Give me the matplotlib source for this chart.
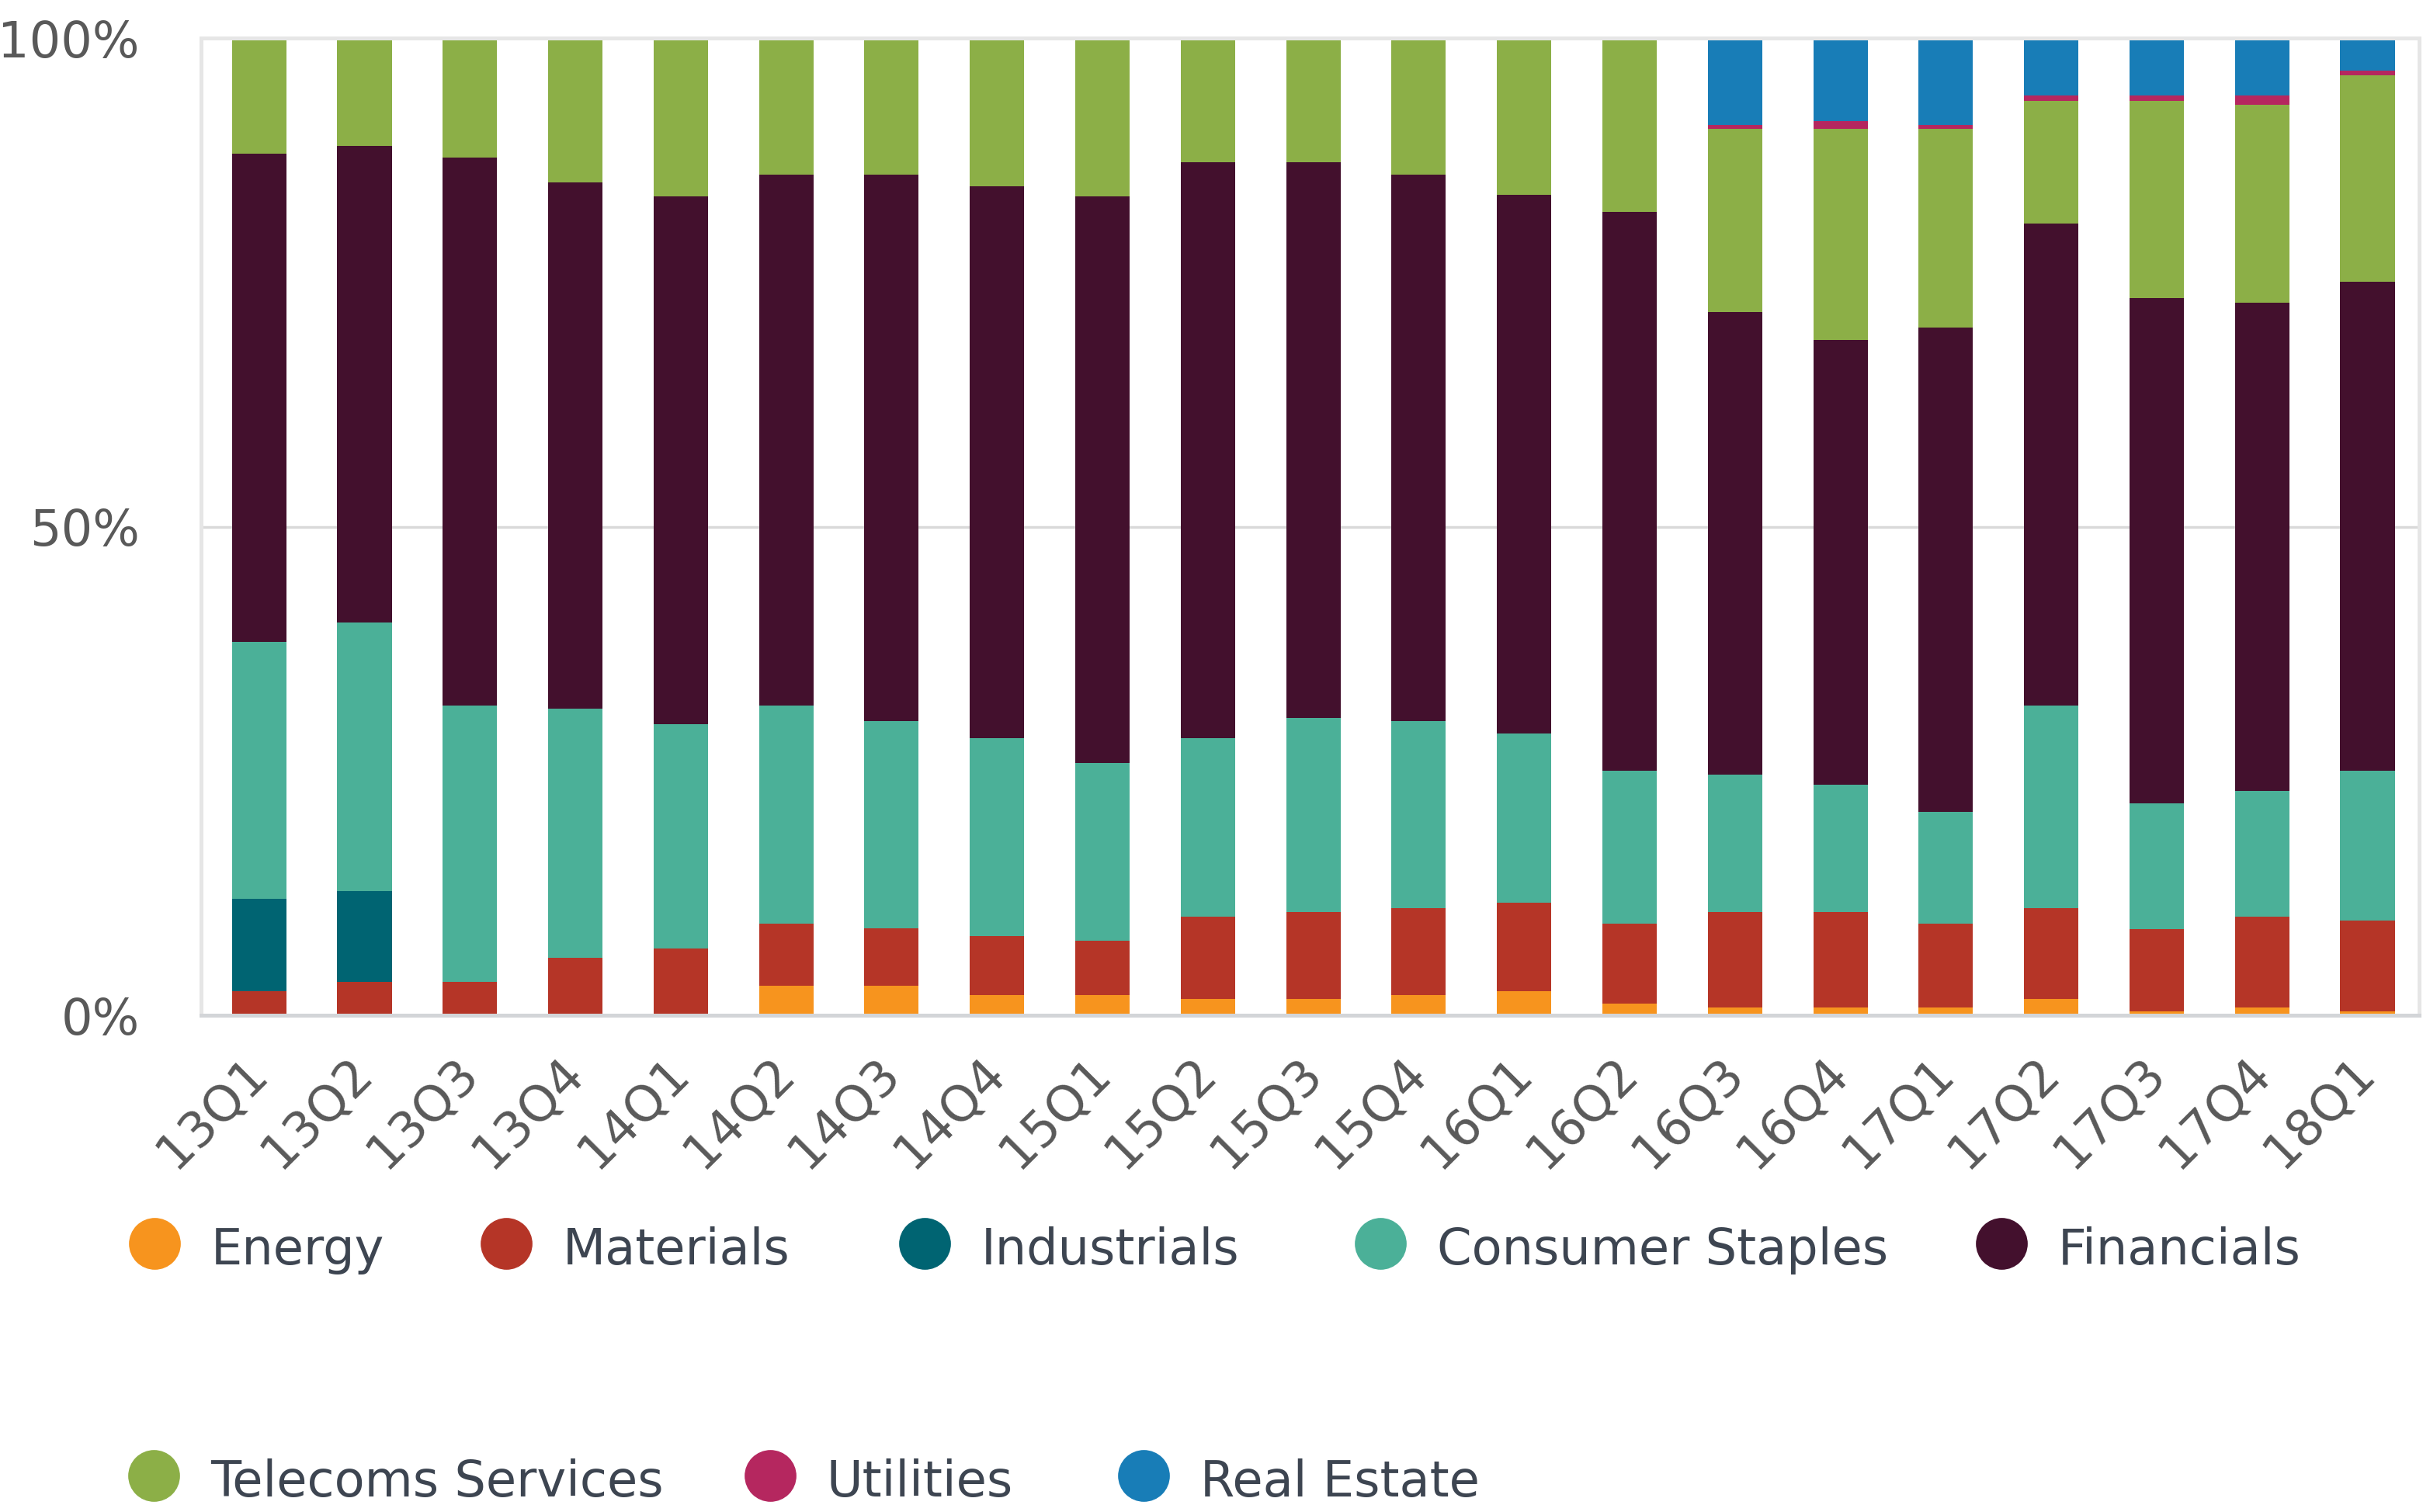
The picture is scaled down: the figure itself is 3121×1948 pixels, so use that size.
import numpy as np
import matplotlib.pyplot as plt
from matplotlib.lines import Line2D

# quarters on the x axis
quarters = ["13Q1", "13Q2", "13Q3", "13Q4", "14Q1", "14Q2", "14Q3", "14Q4",
            "15Q1", "15Q2", "15Q3", "15Q4", "16Q1", "16Q2", "16Q3", "16Q4",
            "17Q1", "17Q2", "17Q3", "17Q4", "18Q1"]

# sector shares in percent
energy = [0, 0, 0, 0, 0, 3.0, 3.0, 2.1, 2.1, 1.7, 1.7, 2.1, 2.5, 1.2,
          0.8, 0.8, 0.8, 1.7, 0.4, 0.8, 0.4]
materials = [2.5, 3.4, 3.4, 5.9, 6.8, 6.35, 5.9, 6.0, 5.5, 8.4, 8.9, 8.9, 9.0, 8.15,
             9.8, 9.8, 8.55, 9.3, 8.4, 9.3, 9.3]
industrials = [9.4, 9.3, 0, 0, 0, 0, 0, 0, 0, 0, 0, 0, 0, 0,
               0, 0, 0, 0, 0, 0, 0]
consumer_staples = [26.3, 27.5, 28.3, 25.5, 23.0, 22.35, 21.2, 20.3, 18.2, 18.3, 19.8,
                    19.1, 17.3, 15.65, 14.0, 13.0, 11.45, 20.7, 12.9, 12.9, 15.3]
financials = [50.0, 48.8, 56.1, 53.8, 54.0, 54.3, 55.9, 56.4, 58.0, 58.9, 56.9,
              55.9, 55.2, 57.2, 47.4, 45.5, 49.6, 49.3, 51.7, 49.9, 50.1]
telecoms = [11.8, 11.0, 12.2, 14.8, 16.2, 14.0, 14.0, 15.2, 16.2, 12.7, 12.7,
            14.0, 16.0, 17.8, 18.7, 21.6, 20.3, 12.6, 20.2, 20.3, 21.1]
utilities = [0, 0, 0, 0, 0, 0, 0, 0, 0, 0, 0, 0, 0, 0,
             0.4, 0.8, 0.4, 0.5, 0.5, 0.9, 0.5]
real_estate = [0, 0, 0, 0, 0, 0, 0, 0, 0, 0, 0, 0, 0, 0,
               8.9, 8.5, 8.9, 5.9, 5.9, 5.9, 3.3]

series_names = ["Energy", "Materials", "Industrials", "Consumer Staples", "Financials",
                "Telecoms Services", "Utilities", "Real Estate"]
series_values = [energy, materials, industrials, consumer_staples, financials,
                 telecoms, utilities, real_estate]
colors = ["#f7941e", "#b53527", "#006472", "#4bb098", "#43102d",
          "#8caf47", "#b5275f", "#187db7"]

tick_color = "#595959"
legend_color = "#3d4551"

W, H = 3121, 1948
fig = plt.figure(figsize=(W / 100, H / 100), dpi=100)
ax = fig.add_axes([0.083, 0.3285, 0.9154, 0.6463])

x = np.arange(len(quarters))
bottom = np.zeros(len(quarters))
for name, vals, col in zip(series_names, series_values, colors):
    vals = np.array(vals, dtype=float)
    ax.bar(x, vals, width=0.516, bottom=bottom, color=col, label=name, zorder=2)
    bottom += vals

ax.set_xlim(-0.55, len(quarters) - 0.51)
ax.set_ylim(0, 100)

# axes frame
for side in ["top", "left", "right"]:
    ax.spines[side].set_color("#e6e6e6")
    ax.spines[side].set_linewidth(3.6)
ax.spines["bottom"].set_color("#d3d5d8")
ax.spines["bottom"].set_linewidth(3.6)

ax.set_yticks([0, 50, 100], ["0%", "50%", "100%"])
ax.yaxis.grid(True, color="#d9d9d9", linewidth=2.5, zorder=0)
ax.set_axisbelow(True)
ax.tick_params(axis="y", length=0, pad=57, labelsize=46, labelcolor=tick_color)
ax.tick_params(axis="x", length=0, pad=46, labelsize=46, labelcolor=tick_color)
ax.set_xticks(x)
ax.set_xticklabels(quarters, rotation=45, ha="right", va="center",
                   rotation_mode="anchor")

# legend: two rows of dot + label, placed like the original
row1_x = [199, 652, 1191, 1778, 2578]
row2_x = [198, 992, 1473]
legend_rows = [(row1_x, 1601.7, 1629.3), (row2_x, 1900.7, 1928.3)]
k = 0
for xs, y_dot, y_base in legend_rows:
    for xp in xs:
        fig.add_artist(Line2D([xp / W], [1 - y_dot / H], transform=fig.transFigure,
                              marker="o", linestyle="none", markersize=47,
                              markerfacecolor=colors[k], markeredgecolor=colors[k]))
        fig.text((xp + 73) / W, 1 - y_base / H, series_names[k], fontsize=46,
                 color=legend_color, ha="left", va="baseline")
        k += 1

fig.savefig("out.png", dpi=100)
plt.close(fig)
